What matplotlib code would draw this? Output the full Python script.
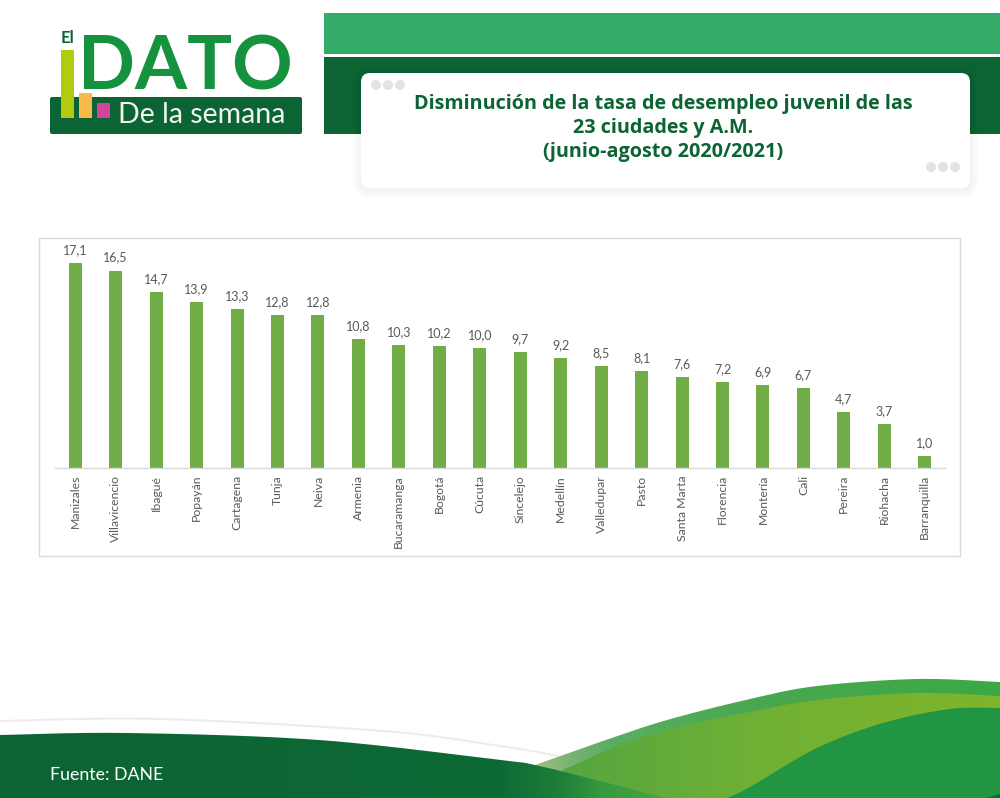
#!/usr/bin/env python3
"""
El Dato de la semana: youth unemployment drop by city.
"""

import numpy as np
import matplotlib

matplotlib.use("Agg")

import matplotlib.pyplot as plt
from matplotlib.colors import to_rgb
from matplotlib.patches import Circle, FancyBboxPatch, PathPatch, Polygon, Rectangle
from matplotlib.path import Path


CITIES = [
    "Manizales", "Villavicencio", "Ibagué", "Popayán", "Cartagena", "Tunja",
    "Neiva", "Armenia", "Bucaramanga", "Bogotá", "Cúcuta", "Sincelejo",
    "Medellín", "Valledupar", "Pasto", "Santa Marta", "Florencia", "Montería",
    "Cali", "Pereira", "Riohacha", "Barranquilla",
]
VALUES = [
    17.1, 16.5, 14.7, 13.9, 13.3, 12.8, 12.8, 10.8, 10.3, 10.2, 10.0, 9.7,
    9.2, 8.5, 8.1, 7.6, 7.2, 6.9, 6.7, 4.7, 3.7, 1.0,
]
VALUE_LABELS = [f"{v:.1f}".replace(".", ",") for v in VALUES]

TITLE = "Disminución de la tasa de desempleo juvenil de las\n23 ciudades y A.M.\n(junio-agosto 2020/2021)"

COLORS = {
    "dark": "#0c6333",
    "band": "#33ab69",
    "logo": "#14923e",
    "bar": "#70ad47",
    "frame": "#d9d9d9",
    "tick": "#595959",
    "dot": "#e3e3e3",
}

W, H = 1000, 798


def smooth(points):
    # Catmull-Rom through the points, as a sampled line
    pts = np.array(points, dtype=float)
    pts = np.vstack([pts[0], pts, pts[-1]])
    out = []
    for i in range(1, len(pts) - 2):
        p0, p1, p2, p3 = pts[i - 1], pts[i], pts[i + 1], pts[i + 2]
        for t in np.linspace(0, 1, 24, endpoint=False):
            out.append(0.5 * (2 * p1 + (p2 - p0) * t
                              + (2 * p0 - 5 * p1 + 4 * p2 - p3) * t ** 2
                              + (3 * p1 - p0 - 3 * p2 + p3) * t ** 3))
    out.append(pts[-2])
    return np.array(out)


def region(ax, top, zorder, facecolor=None, stops=None):
    # area under a curve down to the bottom edge, flat colour or left-right gradient
    line = smooth(top)
    verts = np.vstack([line, [line[-1][0], H], [line[0][0], H], line[0]])
    patch = PathPatch(Path(verts), facecolor=facecolor or "none", edgecolor="none", zorder=zorder)
    ax.add_patch(patch)
    if stops:
        xs = np.arange(0, W)
        grad = np.stack([np.interp(xs, stops[0], [to_rgb(c)[k] for c in stops[1]])
                         for k in range(3)], axis=-1)[None, :, :]
        img = ax.imshow(grad, extent=(0, W, H, 0), aspect="auto", zorder=zorder, interpolation="bilinear")
        img.set_clip_path(patch)


def draw_footer(ax):
    region(ax, [(0, 720), (160, 718), (383, 730), (500, 745), (557, 755), (600, 767), (640, 780)], 1, "#ececec")
    region(ax, [(0, 722), (160, 720), (383, 732), (500, 747), (557, 757), (600, 769), (640, 782)], 1.1, "white")
    # hill, lime band, dark wave over them, front hill
    region(ax, [(535, 765), (600, 742), (667, 720), (750, 699), (817, 686), (917, 679), (1000, 682)], 3,
           stops=([535, 570, 610, 750, 1000], ["#a3bf80", "#79b272", "#5aae64", "#4aa950", "#3aa845"]))
    region(ax, [(563, 770), (633, 740), (700, 722), (750, 712), (817, 700), (917, 693), (1000, 696)], 4,
           stops=([563, 750, 1000], ["#55a640", "#6fb035", "#80b52b"]))
    region(ax, [(0, 735), (128, 733), (319, 740), (500, 760), (535, 765), (600, 781), (665, 798)], 5,
           stops=([0, 500, 560, 600, 665], [COLORS["dark"], "#0d6a35", "#1c7f3a", "#349a3e", "#4aa33f"]))
    region(ax, [(727, 798), (750, 787), (817, 748), (883, 723), (950, 709), (1000, 708)], 6, "#219541")
    ax.add_patch(Polygon([(987, 798), (1000, 794), (1000, 798)], facecolor="#0c6b38", edgecolor="none", zorder=7))
    ax.text(50, 775, "Fuente: DANE", color="white", fontsize=12.8, family="Lato",
            ha="left", va="center", zorder=8)


def draw_logo(ax):
    ax.text(185, 90, "DATO", color=COLORS["logo"], fontsize=54, fontweight="bold",
            family="Lato", ha="center", va="baseline", zorder=2)
    ax.add_patch(FancyBboxPatch((51, 98), 250, 35, boxstyle="round,pad=1,rounding_size=2",
                                facecolor=COLORS["dark"], edgecolor="none", zorder=3))
    ax.add_patch(Rectangle((61, 50), 13, 68, facecolor="#b0cb10", zorder=4))
    ax.add_patch(Rectangle((79, 93), 13, 25, facecolor="#fbb84a", zorder=4))
    ax.add_patch(Rectangle((97, 103), 13, 15, facecolor="#d1459c", zorder=4))
    ax.text(67.5, 38, "El", color=COLORS["dark"], fontsize=12, fontweight="bold",
            family="Lato", ha="center", va="center", zorder=4)
    ax.text(118, 115, "De la semana", color="#eef6ee", fontsize=20.5, family="Lato",
            ha="left", va="center", zorder=4)


def draw_header(ax):
    ax.add_patch(Rectangle((324, 13), W - 324, 41, facecolor=COLORS["band"], zorder=1))
    ax.add_patch(Rectangle((324, 57), W - 324, 77, facecolor=COLORS["dark"], zorder=1))
    for off in [8, 6, 4, 2]:
        ax.add_patch(FancyBboxPatch((369, 83), 593, 99, boxstyle=f"round,pad={8 + off},rounding_size={9 + off}",
                                    facecolor="black", edgecolor="none", alpha=0.012, zorder=2))
    ax.add_patch(FancyBboxPatch((369, 81), 593, 99, boxstyle="round,pad=8,rounding_size=9",
                                facecolor="white", edgecolor="none", zorder=3))
    for x, y in [(376, 85), (388, 85), (400, 85), (931, 167), (943, 167), (955, 167)]:
        ax.add_patch(Circle((x, y), 5, facecolor=COLORS["dot"], edgecolor="none", zorder=4))
    ax.text(663, 128, TITLE, color=COLORS["dark"], fontsize=14.2, fontweight="bold", family="Open Sans",
            ha="center", va="center", linespacing=1.25, zorder=5)


def draw_chart(fig, ax):
    ax.add_patch(Rectangle((39, 238), 921, 318, facecolor="white",
                           edgecolor=COLORS["frame"], linewidth=1, zorder=1))

    left, right, top, base = 55, 945, 240, 468
    chart = fig.add_axes([left / W, 1 - base / H, (right - left) / W, (base - top) / H])
    chart.patch.set_alpha(0)
    chart.bar(range(len(CITIES)), VALUES, width=0.32, color=COLORS["bar"])
    chart.bar_label(chart.containers[0], labels=VALUE_LABELS, padding=5,
                    fontsize=9, color=COLORS["tick"], family="Lato")
    chart.set_xlim(-0.5, len(CITIES) - 0.5)
    chart.set_ylim(0, 19.05)
    chart.set_xticks(range(len(CITIES)))
    chart.set_xticklabels(CITIES, rotation=90, fontsize=8.8, color=COLORS["tick"], family="Lato")
    chart.tick_params(axis="x", length=0, pad=5)
    chart.set_yticks([])
    for side in ["top", "left", "right"]:
        chart.spines[side].set_visible(False)
    chart.spines["bottom"].set_color(COLORS["frame"])
    chart.spines["bottom"].set_linewidth(1)


def main():
    fig = plt.figure(figsize=(W / 100, H / 100), dpi=100, facecolor="white")
    ax = fig.add_axes([0, 0, 1, 1])
    ax.set_xlim(0, W)
    ax.set_ylim(H, 0)
    ax.axis("off")

    draw_footer(ax)
    draw_logo(ax)
    draw_header(ax)
    draw_chart(fig, ax)
    ax.set_xlim(0, W)
    ax.set_ylim(H, 0)

    fig.savefig("out.png", dpi=100, facecolor="white")
    plt.close(fig)


if __name__ == "__main__":
    main()
